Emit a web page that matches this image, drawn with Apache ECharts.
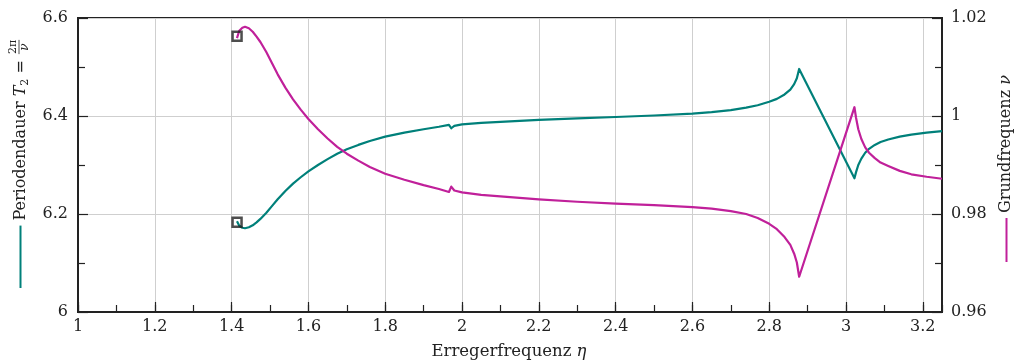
<!DOCTYPE html>
<html>
<head>
<meta charset="utf-8">
<script src="https://cdn.jsdelivr.net/npm/echarts@6/dist/echarts.min.js"></script>
<style>
html,body{margin:0;padding:0;background:#fff;}
#chart{width:1023px;height:364px;}
</style>
</head>
<body>
<div id="chart"></div>
<script>
// ---- data ----
const eta = [1.414,1.420,1.428,1.435,1.445,1.455,1.465,1.475,1.49,1.505,1.52,1.54,1.56,1.58,1.60,1.625,1.65,1.675,1.70,1.73,1.76,1.80,1.85,1.90,1.94,1.966,1.972,1.980,2.00,2.05,2.10,2.20,2.30,2.40,2.50,2.60,2.65,2.70,2.74,2.77,2.80,2.82,2.84,2.855,2.865,2.872,2.878,3.022,3.026,3.032,3.04,3.05,3.06,3.075,3.09,3.11,3.14,3.17,3.21,3.25];
const periodT = [6.185,6.176,6.172,6.171,6.173,6.177,6.183,6.190,6.202,6.216,6.230,6.247,6.262,6.275,6.287,6.300,6.312,6.323,6.332,6.341,6.349,6.358,6.366,6.373,6.378,6.382,6.375,6.380,6.383,6.386,6.388,6.392,6.395,6.398,6.401,6.405,6.408,6.412,6.417,6.422,6.429,6.435,6.444,6.454,6.465,6.477,6.496,6.273,6.285,6.300,6.313,6.325,6.333,6.341,6.347,6.352,6.358,6.362,6.366,6.369];
const freqNu = [1.0159,1.0174,1.0180,1.0182,1.0179,1.0172,1.0162,1.0151,1.0131,1.0108,1.0085,1.0058,1.0034,1.0013,0.9994,0.9973,0.9954,0.9937,0.9923,0.9909,0.9896,0.9882,0.9870,0.9859,0.9851,0.9845,0.9856,0.9848,0.9844,0.9839,0.9836,0.9830,0.9825,0.9821,0.9818,0.9814,0.9811,0.9806,0.9800,0.9792,0.9780,0.9769,0.9753,0.9737,0.9719,0.9701,0.9672,1.0018,0.9997,0.9973,0.9953,0.9936,0.9925,0.9914,0.9905,0.9898,0.9888,0.9881,0.9876,0.9872];

const markerEta = [1.4142];
const markerT = [6.183];
const markerNu = [1.0163];

const xRange = [1, 3.25];
const yLeftRange = [6, 6.6];
const yRightRange = [0.96, 1.02];

// ---- styles ----
const TEAL = '#00807a';
const MAGENTA = '#c0209a';
const DARK = '#222222';
const GRIDC = '#cfcfcf';
const FF = '"DejaVu Serif", serif';
const FS = 16;

const ctx = document.createElement('canvas').getContext('2d');
function tw(font, t){ ctx.font = font; return ctx.measureText(t).width; }

const fN = FS + 'px ' + FF;
const fI = 'italic ' + FS + 'px ' + FF;
const fS = '11px ' + FF;
const fSI = 'italic 12px ' + FF;

// left title pieces
const a = tw(fN, 'Periodendauer ');
const b = tw(fI, 'T');
const c = tw(fS, '2');
const d = tw(fN, ' = ');
const fw = Math.max(tw(fS, '2π'), tw(fSI, 'ν')) + 2;
const fracCenterLocal = a + b + c + d + fw / 2;
const leftStartY = 47 + fracCenterLocal;

const chart = echarts.init(document.getElementById('chart'), null, {renderer:'canvas'});

const labelStyle = {color:'#222', fontFamily:FF, fontSize:FS};

chart.setOption({
  animation:false,
  grid:{left:78, right:81, top:18, bottom:52, show:true, borderColor:DARK, borderWidth:2, backgroundColor:'transparent'},
  xAxis:[{
    type:'value', min:xRange[0], max:xRange[1], interval:0.2,
    axisLine:{show:true, onZero:false, lineStyle:{color:DARK, width:2}},
    axisTick:{show:true, inside:true, length:10, lineStyle:{color:DARK, width:1.2}},
    axisLabel:Object.assign({margin:7, showMaxLabel:false}, labelStyle),
    splitLine:{show:true, lineStyle:{color:GRIDC, width:1}}
  },{
    type:'value', min:xRange[0], max:xRange[1], interval:0.1, position:'bottom',
    axisLine:{show:false},
    axisTick:{show:true, inside:true, length:7, lineStyle:{color:DARK, width:1.2}},
    axisLabel:{show:false}, splitLine:{show:false}
  }],
  yAxis:[{
    type:'value', min:yLeftRange[0], max:yLeftRange[1], interval:0.2, position:'left',
    axisLine:{show:true, onZero:false, lineStyle:{color:DARK, width:2}},
    axisTick:{show:true, inside:true, length:10, lineStyle:{color:DARK, width:1.2}},
    minorTick:{show:true, splitNumber:2, length:7, lineStyle:{color:DARK, width:1.2}},
    axisLabel:Object.assign({margin:10, formatter:v=>String(+v.toFixed(2))}, labelStyle),
    splitLine:{show:true, lineStyle:{color:GRIDC, width:1}}
  },{
    type:'value', min:yRightRange[0], max:yRightRange[1], interval:0.02, position:'right',
    axisLine:{show:true, onZero:false, lineStyle:{color:DARK, width:2}},
    axisTick:{show:true, inside:true, length:10, lineStyle:{color:DARK, width:1.2}},
    minorTick:{show:true, splitNumber:2, length:7, lineStyle:{color:DARK, width:1.2}},
    axisLabel:Object.assign({margin:9, formatter:v=>String(+v.toFixed(3))}, labelStyle),
    splitLine:{show:false}
  }],
  series:[{
    type:'line', xAxisIndex:0, yAxisIndex:0, showSymbol:false, smooth:false,
    data: eta.map((x,i)=>[x, periodT[i]]),
    lineStyle:{color:TEAL, width:2.2, join:'round'}, itemStyle:{color:TEAL}, z:3
  },{
    type:'line', xAxisIndex:0, yAxisIndex:1, showSymbol:false, smooth:false,
    data: eta.map((x,i)=>[x, freqNu[i]]),
    lineStyle:{color:MAGENTA, width:2.2, join:'round'}, itemStyle:{color:MAGENTA}, z:3
  },{
    type:'scatter', xAxisIndex:0, yAxisIndex:0, symbol:'rect', symbolSize:9,
    data: markerEta.map((x,i)=>[x, markerT[i]]),
    itemStyle:{color:'rgba(255,255,255,0)', borderColor:DARK, borderWidth:2.5}, z:5
  },{
    type:'scatter', xAxisIndex:0, yAxisIndex:1, symbol:'rect', symbolSize:9,
    data: markerEta.map((x,i)=>[x, markerNu[i]]),
    itemStyle:{color:'rgba(255,255,255,0)', borderColor:DARK, borderWidth:2.5}, z:5
  }],
  graphic:[
    {type:'text', x:509, y:352, style:{
      text:'{a|Erregerfrequenz }{b|η}', align:'center', verticalAlign:'middle',
      rich:{a:{fontFamily:FF, fontSize:16.5, fill:'#222'}, b:{fontFamily:FF, fontSize:16.5, fontStyle:'italic', fill:'#222'}}
    }},
    {type:'group', x:21, y:leftStartY, rotation:Math.PI/2, children:[
      {type:'text', x:0, y:0, style:{text:'Periodendauer ', font:fN, fill:'#222', align:'left', verticalAlign:'middle'}},
      {type:'text', x:a, y:0, style:{text:'T', font:fI, fill:'#222', align:'left', verticalAlign:'middle'}},
      {type:'text', x:a+b, y:4, style:{text:'2', font:fS, fill:'#222', align:'left', verticalAlign:'middle'}},
      {type:'text', x:a+b+c, y:0, style:{text:' = ', font:fN, fill:'#222', align:'left', verticalAlign:'middle'}},
      {type:'text', x:fracCenterLocal, y:-8, style:{text:'2π', font:fS, fill:'#222', align:'center', verticalAlign:'middle'}},
      {type:'line', shape:{x1:fracCenterLocal-fw/2+1, y1:-2, x2:fracCenterLocal+fw/2-1, y2:-2}, style:{stroke:'#222', lineWidth:0.8}},
      {type:'text', x:fracCenterLocal, y:4, style:{text:'ν', font:fSI, fill:'#222', align:'center', verticalAlign:'middle'}}
    ]},
    {type:'line', shape:{x1:20.5, y1:leftStartY+5, x2:20.5, y2:288}, style:{stroke:TEAL, lineWidth:2}},
    {type:'group', x:1006, y:213, rotation:Math.PI/2, children:[
      {type:'text', x:0, y:0, style:{
        text:'{a|Grundfrequenz }{b|ν}', align:'left', verticalAlign:'middle',
        rich:{a:{fontFamily:FF, fontSize:FS, fill:'#222'}, b:{fontFamily:FF, fontSize:FS, fontStyle:'italic', fill:'#222'}}
      }}
    ]},
    {type:'line', shape:{x1:1006.5, y1:218, x2:1006.5, y2:262}, style:{stroke:MAGENTA, lineWidth:2}}
  ]
});
</script>
</body>
</html>
